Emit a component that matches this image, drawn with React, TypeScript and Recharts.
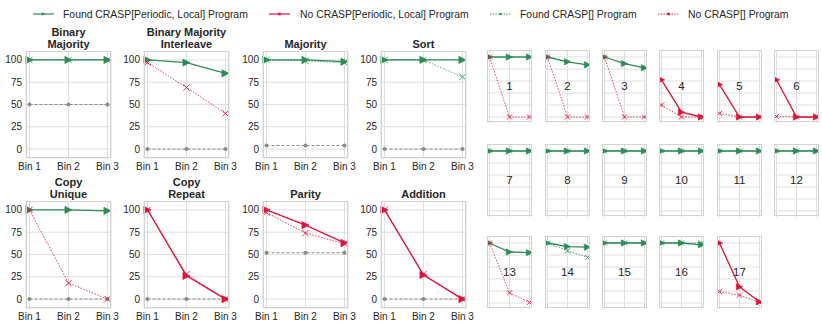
import React from 'react';
import { LineChart, Line, XAxis, YAxis, CartesianGrid, ReferenceLine } from 'recharts';

const BINS = ['Bin 1', 'Bin 2', 'Bin 3'];
const GREEN = '#2e8b57';
const RED = '#dc143c';
const GRAY = '#8a8a8a';
const GRID = '#dedede';
const BORDER = '#d2d2d2';
const TEXT = '#262626';
const FONT = '"Liberation Sans", Arial, sans-serif';

// ---- large panels ----
const LARGE_TITLES = [
  ['Binary', 'Majority'],
  ['Binary Majority', 'Interleave'],
  ['Majority'],
  ['Sort'],
  ['Copy', 'Unique'],
  ['Copy', 'Repeat'],
  ['Parity'],
  ['Addition'],
];
const LARGE_SOLID = [
  [100, 100, 100],
  [100, 97, 85],
  [100, 100, 98],
  [100, 100, 100],
  [100, 100, 99],
  [100, 26, 0],
  [100, 83, 63],
  [100, 27, 0],
];
const LARGE_SOLID_FOUND = [true, true, true, true, true, false, false, false];
const LARGE_DOTTED = [
  [100, 100, 100],
  [97, 69, 40],
  [100, 99, 97],
  [100, 100, 81],
  [100, 18, 0],
  [100, 28, 0],
  [97, 74, 62],
  [100, 28, 0],
];
const LARGE_DOTTED_FOUND = [true, false, true, true, false, false, false, false];
const LARGE_BASELINE = [
  [50, 50, 50],
  [0, 0, 0],
  [4, 4, 4],
  [0, 0, 0],
  [0, 0, 0],
  [0, 0, 0],
  [52, 52, 52],
  [0, 0, 0],
];
const LARGE_YTICKS = [0, 25, 50, 75, 100];

// ---- small panels ----
const SMALL_LABELS = ['1', '2', '3', '4', '5', '6', '7', '8', '9', '10', '11', '12', '13', '14', '15', '16', '17'];
const SMALL_SOLID = [
  [100, 100, 100],
  [100, 92, 87],
  [100, 89, 82],
  [62, 8, 0],
  [54, 0, 0],
  [62, 0, 0],
  [100, 100, 100],
  [100, 100, 100],
  [100, 100, 100],
  [100, 100, 100],
  [100, 100, 100],
  [100, 100, 100],
  [100, 85, 84],
  [100, 94, 93],
  [100, 100, 100],
  [100, 100, 97],
  [100, 27, 2],
];
const SMALL_SOLID_FOUND = [true, true, true, false, false, false, true, true, true, true, true, true, true, true, true, true, false];
const SMALL_DOTTED = [
  [100, 0, 0],
  [100, 0, 0],
  [100, 0, 0],
  [20, 0, 0],
  [6, 0, 0],
  [1, 0, 0],
  [100, 100, 100],
  [100, 100, 100],
  [100, 100, 100],
  [100, 100, 100],
  [100, 100, 100],
  [100, 100, 100],
  [100, 17, 1],
  [100, 87, 76],
  [100, 100, 100],
  [100, 100, 100],
  [19, 13, 1],
];
const SMALL_DOTTED_FOUND = [false, false, false, false, false, false, true, true, true, true, true, true, false, true, true, true, false];
const SMALL_YTICKS = [0, 20, 40, 60, 80, 100];

const LEGEND_LABELS = [
  'Found CRASP[Periodic, Local] Program',
  'No CRASP[Periodic, Local] Program',
  'Found CRASP[] Program',
  'No CRASP[] Program',
];

// ---- layout ----
const LARGE_COLS = [26, 144, 263, 381];
const LARGE_ROWS = [51, 201];
const LARGE_W = 85;
const LARGE_H = 107;
const SMALL_COL0 = 487.3;
const SMALL_DX = 57.3;
const SMALL_ROWS = [50, 144, 236];
const SMALL_W = 45;
const SMALL_H = 72;

const triDot = (color: string, s: number) => (p: any) => {
  const { cx, cy, index } = p;
  if (cx == null || cy == null) return <g key={`t${index}`} />;
  return (
    <polygon
      key={`t${index}`}
      points={`${cx - s},${cy - s} ${cx + s},${cy} ${cx - s},${cy + s}`}
      fill={color}
      stroke={color}
      strokeWidth={0.6}
    />
  );
};
const xDot = (color: string, s: number) => (p: any) => {
  const { cx, cy, index } = p;
  if (cx == null || cy == null) return <g key={`x${index}`} />;
  return (
    <g key={`x${index}`} stroke={color} strokeWidth={1} strokeOpacity={0.85}>
      <line x1={cx - s} y1={cy - s} x2={cx + s} y2={cy + s} />
      <line x1={cx - s} y1={cy + s} x2={cx + s} y2={cy - s} />
    </g>
  );
};
const cDot = (color: string, r: number) => (p: any) => {
  const { cx, cy, index } = p;
  if (cx == null || cy == null) return <g key={`c${index}`} />;
  return <circle key={`c${index}`} cx={cx} cy={cy} r={r} fill={color} />;
};

type PanelProps = {
  left: number;
  top: number;
  w: number;
  h: number;
  solid: number[];
  solidColor: string;
  dotted: number[];
  dottedColor: string;
  base?: number[];
  yTicks: number[];
  large: boolean;
};

function Panel(props: PanelProps) {
  const { left, top, w, h, solid, solidColor, dotted, dottedColor, base, yTicks, large } = props;
  const data = BINS.map((b, i) => ({
    bin: b,
    solid: solid[i],
    dotted: dotted[i],
    base: base ? base[i] : null,
  }));
  const yW = large ? 30 : 0;
  const xH = large ? 20 : 0;
  const rM = large ? 14 : 0;
  const pad = large ? 3.5 : 2.5;
  const triS = large ? 3.6 : 3.2;
  const xS = large ? 3.2 : 2.6;
  const dy = large ? 0 : 0.5;
  const tickStyle = { fontSize: 10, fill: TEXT, fontFamily: FONT };
  return (
    <>
      <div style={{ position: 'absolute', left: left - yW, top: top + dy, width: w + yW + rM, height: h + xH }}>
        <LineChart
          width={w + yW + rM}
          height={h + xH}
          data={data}
          margin={{ top: 0, right: rM, bottom: 0, left: 0 }}
        >
          {large && <CartesianGrid stroke={GRID} strokeWidth={1} />}
          {!large &&
            yTicks.map((t) => (
              <ReferenceLine key={`hy${t}`} y={t} stroke={GRID} strokeWidth={1} ifOverflow="visible" />
            ))}
          {!large &&
            BINS.map((b) => (
              <ReferenceLine key={`vx${b}`} x={b} stroke={GRID} strokeWidth={1} ifOverflow="visible" />
            ))}
          <XAxis
            dataKey="bin"
            type="category"
            padding={{ left: pad, right: pad }}
            height={xH}
            hide={!large}
            axisLine={false}
            tickLine={false}
            tickSize={0}
            tickMargin={5}
            tick={tickStyle}
            interval={0}
          />
          <YAxis
            type="number"
            domain={[-10, 110]}
            ticks={yTicks}
            width={yW}
            hide={!large}
            axisLine={false}
            tickLine={false}
            tickSize={0}
            tickMargin={4}
            tick={tickStyle}
            interval={0}
          />
          {base && (
            <Line
              type="linear"
              dataKey="base"
              stroke={GRAY}
              strokeWidth={1}
              strokeDasharray="3 2"
              dot={cDot(GRAY, 2)}
              activeDot={false}
              isAnimationActive={false}
            />
          )}
          <Line
            type="linear"
            dataKey="solid"
            stroke={solidColor}
            strokeWidth={1.3}
            dot={triDot(solidColor, triS)}
            activeDot={false}
            isAnimationActive={false}
          />
          <Line
            type="linear"
            dataKey="dotted"
            stroke={dottedColor}
            strokeWidth={1}
            strokeOpacity={0.8}
            strokeDasharray="1.5 1.5"
            dot={xDot(dottedColor, xS)}
            activeDot={false}
            isAnimationActive={false}
          />
        </LineChart>
      </div>
      <div
        style={{
          position: 'absolute',
          left,
          top,
          width: w,
          height: h,
          border: `1px solid ${BORDER}`,
          boxSizing: 'border-box',
          pointerEvents: 'none',
        }}
      />
    </>
  );
}

function Legend() {
  const cy = 14;
  const items = [
    { x1: 33, x2: 54, tx: 63, color: GREEN, dash: undefined, marker: 'tri' },
    { x1: 269, x2: 290, tx: 300, color: RED, dash: undefined, marker: 'sq' },
    { x1: 490, x2: 511, tx: 520, color: GREEN, dash: '1.5 1.2', marker: 'dot' },
    { x1: 658, x2: 679, tx: 688, color: RED, dash: '1.5 1.2', marker: 'sq' },
  ];
  return (
    <svg style={{ position: 'absolute', left: 0, top: 0 }} width={822} height={28}>
      {items.map((it, i) => {
        const mx = (it.x1 + it.x2) / 2;
        return (
          <g key={i}>
            <line x1={it.x1} y1={cy} x2={it.x2} y2={cy} stroke={it.color} strokeWidth={it.dash ? 0.9 : 1.2} strokeDasharray={it.dash} />
            {it.marker === 'tri' && (
              <polygon points={`${mx - 1.8},${cy - 1.8} ${mx + 1.8},${cy} ${mx - 1.8},${cy + 1.8}`} fill={it.color} />
            )}
            {it.marker === 'sq' && <rect x={mx - 1.3} y={cy - 1.3} width={2.6} height={2.6} fill={it.color} />}
            {it.marker === 'dot' && <circle cx={mx} cy={cy} r={1.2} fill={it.color} />}
            <text x={it.tx} y={cy + 3.7} fontSize={10.4} fill={TEXT} fontFamily={FONT}>
              {LEGEND_LABELS[i]}
            </text>
          </g>
        );
      })}
    </svg>
  );
}

export default function App() {
  return (
    <div
      style={{
        position: 'absolute',
        left: 0,
        top: 0,
        width: 822,
        height: 327,
        background: '#fff',
        fontFamily: FONT,
        overflow: 'hidden',
      }}
    >
      <Legend />
      {LARGE_TITLES.map((title, i) => {
        const left = LARGE_COLS[i % 4];
        const top = LARGE_ROWS[Math.floor(i / 4)];
        const n = title.length;
        return (
          <React.Fragment key={`L${i}`}>
            {title.map((line, j) => (
              <div
                key={j}
                style={{
                  position: 'absolute',
                  left: left - 30,
                  width: LARGE_W + 60,
                  top: top - 1 - (n - j) * 12,
                  height: 12,
                  lineHeight: '12px',
                  textAlign: 'center',
                  fontSize: 11,
                  fontWeight: 'bold',
                  color: TEXT,
                  fontFamily: FONT,
                  whiteSpace: 'nowrap',
                }}
              >
                {line}
              </div>
            ))}
            <Panel
              left={left}
              top={top}
              w={LARGE_W}
              h={LARGE_H}
              solid={LARGE_SOLID[i]}
              solidColor={LARGE_SOLID_FOUND[i] ? GREEN : RED}
              dotted={LARGE_DOTTED[i]}
              dottedColor={LARGE_DOTTED_FOUND[i] ? GREEN : RED}
              base={LARGE_BASELINE[i]}
              yTicks={LARGE_YTICKS}
              large={true}
            />
          </React.Fragment>
        );
      })}
      {SMALL_LABELS.map((label, i) => {
        const left = Math.round(SMALL_COL0 + SMALL_DX * (i % 6));
        const top = SMALL_ROWS[Math.floor(i / 6)];
        return (
          <React.Fragment key={`S${i}`}>
            <Panel
              left={left}
              top={top}
              w={SMALL_W}
              h={SMALL_H}
              solid={SMALL_SOLID[i]}
              solidColor={SMALL_SOLID_FOUND[i] ? GREEN : RED}
              dotted={SMALL_DOTTED[i]}
              dottedColor={SMALL_DOTTED_FOUND[i] ? GREEN : RED}
              yTicks={SMALL_YTICKS}
              large={false}
            />
            <div
              style={{
                position: 'absolute',
                left,
                top: top + SMALL_H / 2 - 7,
                width: SMALL_W,
                height: 14,
                lineHeight: '14px',
                textAlign: 'center',
                fontSize: 11.5,
                color: TEXT,
                fontFamily: FONT,
                pointerEvents: 'none',
              }}
            >
              {label}
            </div>
          </React.Fragment>
        );
      })}
    </div>
  );
}
